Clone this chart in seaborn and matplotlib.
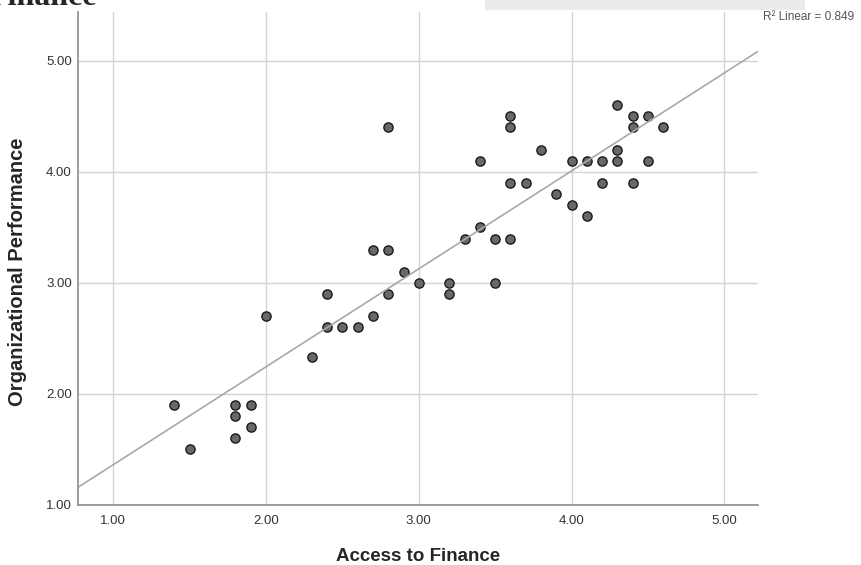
import matplotlib

matplotlib.use("Agg")

import matplotlib.pyplot as plt
import pandas as pd
import seaborn as sns
from matplotlib.patches import Rectangle


ACCESS_TO_FINANCE = [
    1.4, 1.5, 1.8, 1.8, 1.8, 1.9, 1.9, 2.0, 2.3, 2.4,
    2.4, 2.5, 2.6, 2.7, 2.7, 2.8, 2.8, 2.8, 2.9, 3.0,
    3.2, 3.2, 3.3, 3.4, 3.4, 3.5, 3.5, 3.6, 3.6, 3.6,
    3.6, 3.7, 3.8, 3.9, 4.0, 4.0, 4.1, 4.1, 4.2, 4.2,
    4.3, 4.3, 4.3, 4.4, 4.4, 4.4, 4.5, 4.5, 4.6,
]
ORG_PERFORMANCE = [
    1.9, 1.5, 1.9, 1.8, 1.6, 1.9, 1.7, 2.7, 2.33, 2.9,
    2.6, 2.6, 2.6, 3.3, 2.7, 4.4, 3.3, 2.9, 3.1, 3.0,
    3.0, 2.9, 3.4, 4.1, 3.5, 3.4, 3.0, 4.5, 4.4, 3.9,
    3.4, 3.9, 4.2, 3.8, 4.1, 3.7, 4.1, 3.6, 4.1, 3.9,
    4.6, 4.2, 4.1, 4.5, 4.4, 3.9, 4.5, 4.1, 4.4,
]
TICKS = [1.0, 2.0, 3.0, 4.0, 5.0]
R2_LABEL = "R² Linear = 0.849"


def main() -> None:
    sns.set_theme(style="white")
    plt.rcParams["font.family"] = ["Liberation Sans", "DejaVu Sans"]

    data = pd.DataFrame({"access": ACCESS_TO_FINANCE, "performance": ORG_PERFORMANCE})

    fig = plt.figure(figsize=(8.62, 5.65), dpi=100)
    ax = fig.add_axes([0.0905, 0.1062, 0.7889, 0.8726])

    # limits first so the fit line runs across the whole frame
    ax.set_xlim(0.77, 5.22)
    ax.set_ylim(1.0, 5.44)

    sns.regplot(
        data=data,
        x="access",
        y="performance",
        ci=None,
        truncate=False,
        ax=ax,
        scatter_kws={"s": 44, "color": "#686868", "edgecolor": "#1a1a1a", "linewidths": 1.0, "alpha": 1},
        line_kws={"color": "#a8a8a8", "linewidth": 1.2},
    )

    ax.set_xticks(TICKS)
    ax.set_yticks(TICKS)
    ax.set_xticklabels([f"{t:.2f}" for t in TICKS])
    ax.set_yticklabels([f"{t:.2f}" for t in TICKS])
    ax.grid(True, color="#d4d4d4", linewidth=1.0)
    ax.set_axisbelow(True)
    ax.tick_params(axis="x", length=0, pad=7, labelsize=9.5, colors="#333333")
    ax.tick_params(axis="y", length=0, pad=4.5, labelsize=9.5, colors="#333333")

    for side in ["top", "right"]:
        ax.spines[side].set_visible(False)
    for side in ["left", "bottom"]:
        ax.spines[side].set_color("#8c8c8c")
        ax.spines[side].set_linewidth(1.2)

    ax.set_xlabel("Access to Finance", fontsize=13.5, fontweight="bold", labelpad=15)
    ax.set_ylabel("Organizational Performance", fontsize=14.5, fontweight="bold")
    ax.yaxis.set_label_coords(-0.075, 0.473)

    fig.text(763 / 862, 1 - 17 / 565, R2_LABEL, fontsize=8.5, color="#555555", ha="left", va="center")

    # cropped caption and watermark strip from the source page
    fig.text(97 / 862, 1 - 5 / 565, "Finance", fontsize=23, fontweight="bold",
             family=["Liberation Serif", "DejaVu Serif"], ha="right", va="baseline")
    fig.patches.append(Rectangle((485 / 862, 1 - 10 / 565), 320 / 862, 10 / 565,
                                 transform=fig.transFigure, facecolor="#e6e6e6",
                                 edgecolor="none", alpha=0.8))

    fig.savefig("out.png", dpi=100)
    plt.close(fig)


if __name__ == "__main__":
    main()
